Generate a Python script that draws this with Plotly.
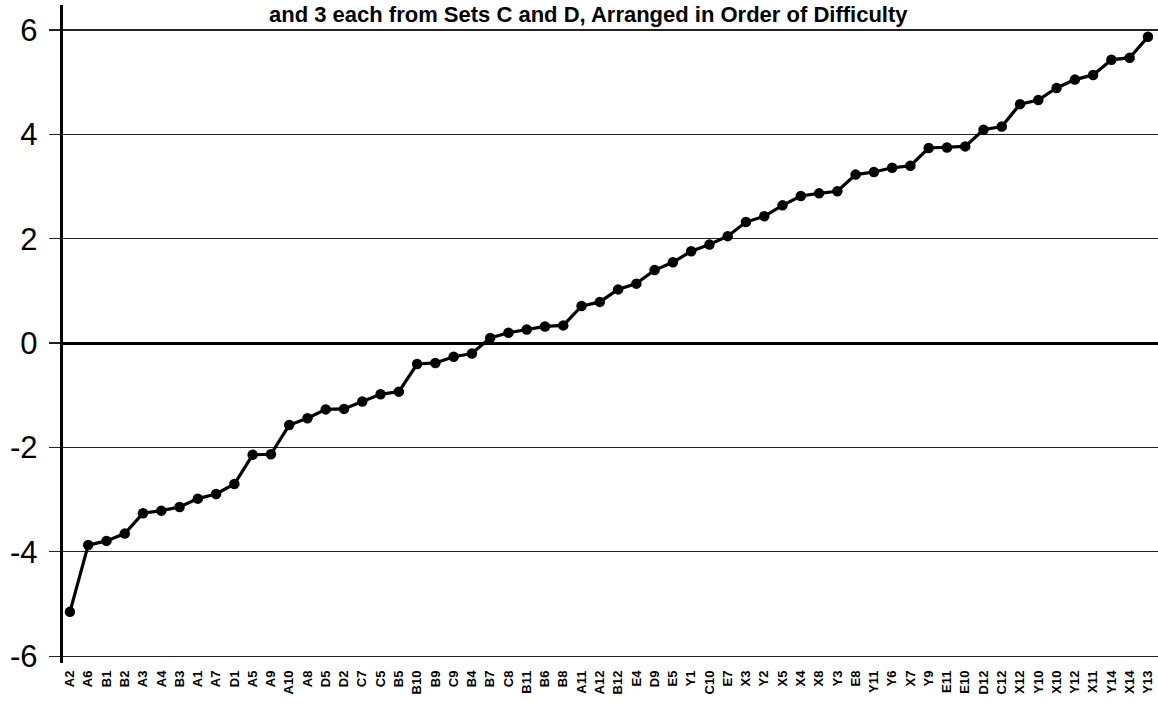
import plotly.graph_objects as go

items = ["A2","A6","B1","B2","A3","A4","B3","A1","A7","D1","A5","A9","A10","A8","D5",
         "D2","C7","C5","B5","B10","B9","C9","B4","B7","C8","B11","B6","B8","A11","A12",
         "B12","E4","D9","E5","Y1","C10","E7","X3","Y2","X5","X4","X8","Y3","E8","Y11",
         "Y6","X7","Y9","E11","E10","D12","C12","X12","Y10","X10","Y12","X11","Y14","X14","Y13"]

difficulty = [-5.15,-3.87,-3.79,-3.65,-3.26,-3.21,-3.14,-2.98,-2.89,-2.70,-2.14,-2.13,-1.57,-1.44,-1.27,
              -1.26,-1.12,-0.98,-0.93,-0.40,-0.38,-0.26,-0.20,0.10,0.20,0.26,0.32,0.34,0.71,0.79,
              1.03,1.14,1.40,1.55,1.76,1.89,2.05,2.32,2.43,2.64,2.82,2.87,2.91,3.23,3.28,
              3.36,3.40,3.74,3.75,3.77,4.09,4.15,4.58,4.66,4.89,5.05,5.14,5.43,5.47,5.87]

y_ticks = [-6, -4, -2, 0, 2, 4, 6]
title_text = "and 3 each from Sets C and D, Arranged in Order of Difficulty"

x_idx = list(range(len(items)))

fig = go.Figure()
fig.add_trace(go.Scatter(
    x=x_idx, y=difficulty, mode="lines+markers",
    line=dict(color="black", width=3.2),
    marker=dict(color="black", size=10.5),
    showlegend=False, hoverinfo="skip", cliponaxis=False))

W, H = 1158, 713
ml, mr, mt, mb = 63, 0, 5, 50

fig.update_layout(
    width=W, height=H,
    margin=dict(l=ml, r=mr, t=mt, b=mb, autoexpand=False),
    paper_bgcolor="white", plot_bgcolor="white",
    font=dict(family="Liberation Sans, Arial, sans-serif", color="black"),
    xaxis=dict(
        range=[-0.38, 59.55],
        tickmode="array", tickvals=x_idx, ticktext=items,
        tickangle=-90,
        tickfont=dict(family="Liberation Sans, Arial, sans-serif", size=13, color="black", weight="bold"),
        showgrid=False, zeroline=False, showline=False, ticks="",
        ticklabelstandoff=4,
        automargin=False, fixedrange=True,
    ),
    yaxis=dict(
        range=[-6.13, 6.48],
        tickmode="array", tickvals=y_ticks, ticktext=[str(v) for v in y_ticks],
        tickfont=dict(family="Liberation Sans, Arial, sans-serif", size=31, color="black"),
        showgrid=True, gridcolor="#222222", gridwidth=1.3,
        zeroline=True, zerolinecolor="black", zerolinewidth=3.2,
        showline=True, linecolor="black", linewidth=3.2,
        ticks="outside", ticklen=11, tickcolor="#222222", tickwidth=1.3,
        ticklabelstandoff=5,
        automargin=False, fixedrange=True,
    ),
    annotations=[dict(
        text="<b>" + title_text + "</b>",
        xref="paper", yref="paper",
        x=(588 - ml) / (W - ml - mr), y=1 - (14 - mt) / (H - mt - mb),
        xanchor="center", yanchor="middle", showarrow=False,
        font=dict(family="Liberation Sans, Arial, sans-serif", size=22, color="black"),
    )],
)

fig.write_html("out.html", config={"displayModeBar": False, "staticPlot": True},
               post_script="document.body.style.margin='0';document.body.style.overflow='hidden';")
